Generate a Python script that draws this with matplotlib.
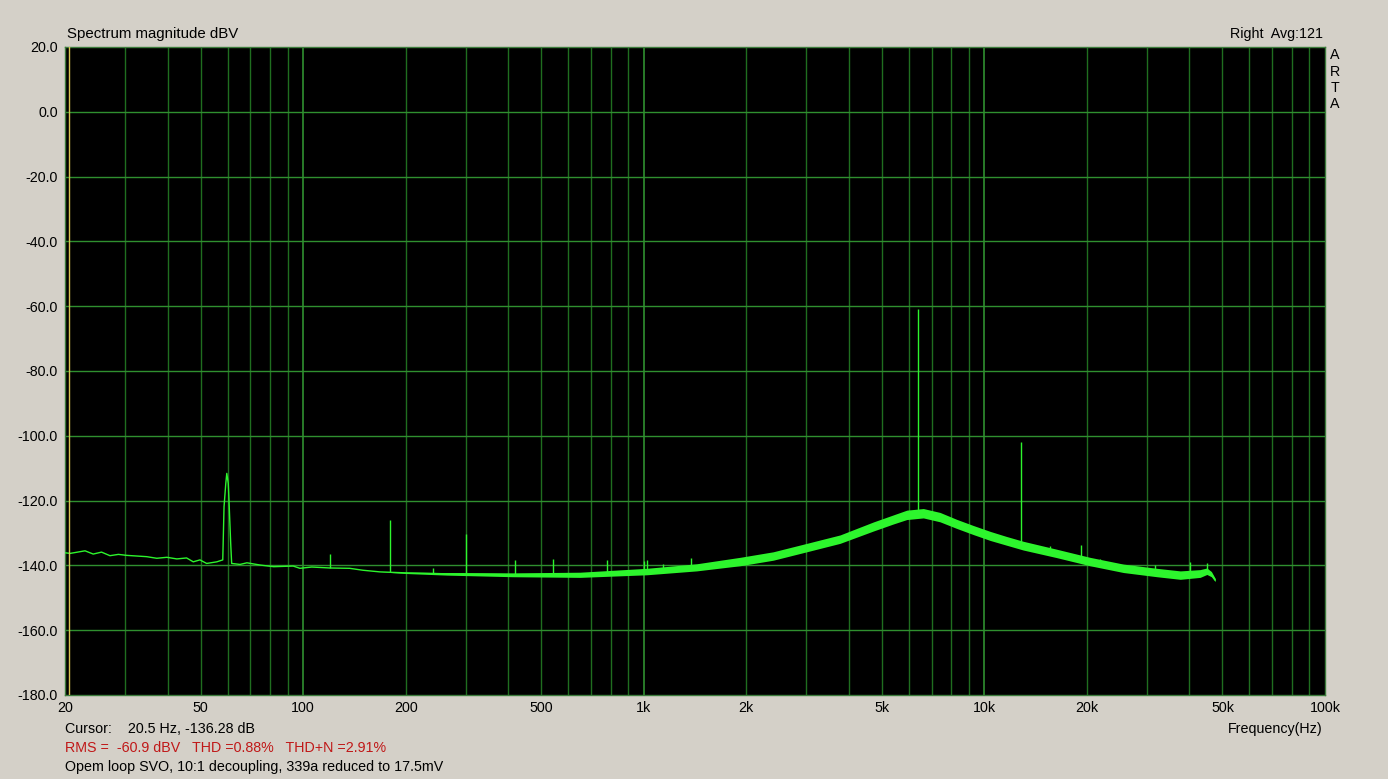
import numpy as np
import matplotlib
matplotlib.use("Agg")
import matplotlib.pyplot as plt

# ---------------- data ----------------
floor_freq = [20, 20.7, 22.9, 24.2, 25.6, 27.1, 28.7, 30.3, 34.7, 37.2, 39.8,
              42.6, 45.5, 47.6, 49.8, 52.1, 55.8, 58.1, 58.6, 59.3, 59.7, 60.3,
              60.7, 61.3, 61.7, 65.3, 68.4, 74.9, 82.0, 93.5, 97.9, 106, 120,
              137, 150, 168, 200, 264, 414, 650, 1020, 1430, 1920, 2400, 3010,
              3770, 4720, 5410, 5920, 6620, 7410, 8300, 9290, 10400, 11600,
              13000, 16300, 20400, 25600, 32100, 37600, 43000, 45000, 46400,
              47600]
floor_db = [-136.1, -136.3, -135.5, -136.5, -135.9, -137.0, -136.6, -136.9,
            -137.3, -137.8, -137.5, -138.0, -137.7, -138.9, -138.3, -139.4,
            -138.9, -138.3, -121.9, -114.7, -111.6, -114.7, -121.9, -133.2,
            -139.4, -139.7, -139.2, -139.9, -140.4, -140.2, -140.9, -140.5,
            -140.8, -140.9, -141.5, -142.0, -142.3, -142.6, -142.9, -142.9,
            -141.9, -140.6, -138.8, -137.1, -134.5, -131.9, -128.0, -125.8,
            -124.4, -123.9, -125.1, -127.2, -129.1, -130.9, -132.4, -133.9,
            -136.3, -138.8, -140.9, -142.2, -143.0, -142.5, -141.8, -142.7,
            -144.5]
band_halfwidth_db = [0] * 36 + [0.2, 0.4, 0.6, 0.8, 1.0, 1.1, 1.3, 1.3, 1.3,
                                1.3, 1.4, 1.4, 1.45, 1.45, 1.45, 1.4, 1.4,
                                1.4, 1.35, 1.35, 1.3, 1.3, 1.3, 1.3, 1.3, 1.2,
                                1.0, 0.8, 0.5]

spike_freq = [120, 180, 240, 300, 420, 540, 780, 1000, 1020, 1140, 1380,
              6400, 12800, 15600, 19200, 21800, 31700, 40200, 45000]
spike_db = [-136.5, -126.0, -140.9, -130.4, -138.3, -138.0, -138.3, -138.6,
            -138.3, -139.6, -137.8, -61.0, -102.0, -134.0, -133.7, -138.0,
            -140.0, -138.8, -139.4]

cursor_freq = 20.5

x_ticks = [20, 50, 100, 200, 500, 1000, 2000, 5000, 10000, 20000, 50000, 100000]
x_tick_labels = ["20", "50", "100", "200", "500", "1k", "2k", "5k", "10k",
                 "20k", "50k", "100k"]
y_ticks = [20, 0, -20, -40, -60, -80, -100, -120, -140, -160, -180]
y_tick_labels = ["20.0", "0.0", "-20.0", "-40.0", "-60.0", "-80.0", "-100.0",
                 "-120.0", "-140.0", "-160.0", "-180.0"]

# ---------------- style ----------------
BG = "#d4d0c8"
GRID = "#1f6e1f"
GRID_MAJOR = "#2f8f2f"
TRACE = "#2df52d"
FONT = "Liberation Sans"

plt.rcParams["font.family"] = [FONT, "DejaVu Sans"]

W, H = 1388, 779
fig = plt.figure(figsize=(W / 100, H / 100), dpi=100, facecolor=BG)
L, R, T, B = 65, 1325, 47, 695
ax = fig.add_axes([L / W, 1 - B / H, (R - L) / W, (B - T) / H])
ax.set_facecolor("black")
ax.set_xscale("log")
ax.set_xlim(20, 100000)
ax.set_ylim(-180, 20)

# grid lines
minor_lines = []
for dec in [10, 100, 1000, 10000]:
    for m in range(2, 10):
        v = dec * m
        if 20 < v < 100000:
            minor_lines.append(v)
for v in minor_lines:
    ax.axvline(v, color=GRID, lw=1.0, zorder=1)
for v in [100, 1000, 10000]:
    ax.axvline(v, color=GRID_MAJOR, lw=1.2, zorder=1)
for v in y_ticks[1:-1]:
    ax.axhline(v, color=GRID_MAJOR, lw=1.0, zorder=1)

# trace
f = np.array(floor_freq, dtype=float)
d = np.array(floor_db, dtype=float)
hw = np.array(band_halfwidth_db, dtype=float)
ax.fill_between(f, d - hw, d + hw, color=TRACE, lw=0, zorder=3)
ax.plot(f, d, color=TRACE, lw=1.0, zorder=4)

# spikes
sf = np.array(spike_freq, dtype=float)
base = np.interp(np.log10(sf), np.log10(f), d)
ax.vlines(sf, base, spike_db, color=TRACE, lw=1.0, zorder=4)

# cursor
ax.axvline(cursor_freq, color="#d8c450", lw=1.0, zorder=5)

# axes / ticks
for s in ax.spines.values():
    s.set_color("#3c7c3c")
    s.set_linewidth(1.0)
ax.set_xticks(x_ticks)
ax.set_xticklabels(x_tick_labels)
ax.minorticks_off()
ax.set_yticks(y_ticks)
ax.set_yticklabels(y_tick_labels)
fs = 10.3
ax.tick_params(axis="both", length=0, labelsize=fs, colors="black")
ax.tick_params(axis="x", pad=4)
ax.tick_params(axis="y", pad=5)

def px(x, y):
    return x / W, 1 - y / H

fig.text(*px(67, 34), "Spectrum magnitude dBV", fontsize=10.8, ha="left", va="center")
fig.text(*px(1323, 34), "Right  Avg:121", fontsize=fs, ha="right", va="center")
for i, ch in enumerate("ARTA"):
    fig.text(*px(1335, 55 + i * 16.5), ch, fontsize=fs, ha="center", va="center")
fig.text(*px(1323, 729), "Frequency(Hz)", fontsize=fs, ha="right", va="center")
fig.text(*px(65, 729), "Cursor:    20.5 Hz, -136.28 dB", fontsize=fs, ha="left", va="center")
fig.text(*px(65, 748), "RMS =  -60.9 dBV   THD =0.88%   THD+N =2.91%", fontsize=fs,
         ha="left", va="center", color="#c01818")
fig.text(*px(65, 767), "Opem loop SVO, 10:1 decoupling, 339a reduced to 17.5mV",
         fontsize=fs, ha="left", va="center")

fig.savefig("out.png", dpi=100, facecolor=BG)
